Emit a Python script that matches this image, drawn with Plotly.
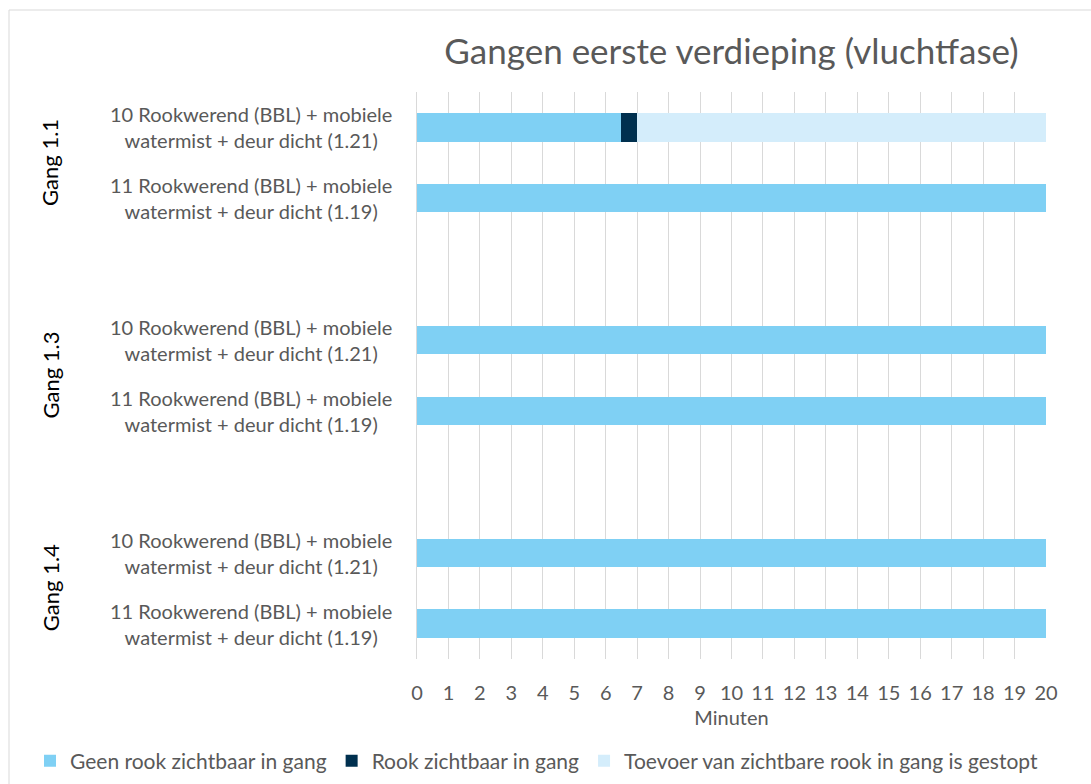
import plotly.graph_objects as go

groups = ["Gang 1.1", "Gang 1.3", "Gang 1.4"]
items = ["10 Rookwerend (BBL) + mobiele<br>watermist + deur dicht (1.21)",
         "11 Rookwerend (BBL) + mobiele<br>watermist + deur dicht (1.19)"]
series_names = ["Geen rook zichtbaar in gang", "Rook zichtbaar in gang",
                "Toevoer van zichtbare rook in gang is gestopt"]
geen = [6.5, 20, 20, 20, 20, 20]
rook = [0.5, 0, 0, 0, 0, 0]
toevoer = [13, 0, 0, 0, 0, 0]
x_ticks = list(range(0, 21))
colors = ["#7FD0F4", "#00304F", "#D4EDFB"]

# row positions: two items per group, one blank row between groups
ypos = []
labels = []
for gi, g in enumerate(groups):
    for ii, it in enumerate(items):
        ypos.append(gi * 3 + ii)
        labels.append(it)

FONT = "Lato"
TXT = "#595959"

fig = go.Figure()
for name, vals, col in zip(series_names, [geen, rook, toevoer], colors):
    fig.add_trace(go.Bar(y=ypos, x=vals, name=name, orientation="h",
                         marker=dict(color=col, line=dict(width=0)), width=0.4))

W, H = 1091, 784
L, R, T, B = 417, 45, 92, 125
pw, ph = W - L - R, H - T - B

annotations = []
for y, lab in zip(ypos, labels):
    annotations.append(dict(x=(394 - L) / pw, xref="paper", y=y, yref="y", text=lab,
                            showarrow=False, xanchor="right", align="center",
                            font=dict(family=FONT, size=20, color=TXT)))
for gi, g in enumerate(groups):
    annotations.append(dict(x=(50 - L) / pw, xref="paper", y=gi * 3 + 0.5, yref="y",
                            text=g, textangle=-90, showarrow=False, xanchor="center",
                            font=dict(family=FONT, size=22, color="#000000")))

fig.update_layout(
    width=W, height=H,
    margin=dict(l=L, r=R, t=T, b=B, autoexpand=False),
    barmode="stack",
    plot_bgcolor="white", paper_bgcolor="white",
    title=dict(text="Gangen eerste verdieping (vluchtfase)", x=0.5, xref="paper",
               y=1 - 52 / H, yref="container", yanchor="middle", xanchor="center",
               font=dict(family=FONT, size=35, color=TXT)),
    xaxis=dict(range=[0, 20], tickvals=x_ticks, ticktext=[str(v) for v in x_ticks],
               showgrid=True, gridcolor="#D9D9D9", gridwidth=1, zeroline=False,
               showline=False, ticks="", ticklabelstandoff=20,
               tickfont=dict(family=FONT, size=20, color=TXT),
               title=dict(text="Minuten", font=dict(family=FONT, size=20, color=TXT), standoff=7)),
    yaxis=dict(range=[7.5, -0.5], showticklabels=False, showgrid=False, zeroline=False,
               showline=True, linecolor="#D9D9D9", linewidth=1),
    legend=dict(orientation="h", xref="paper", yref="paper",
                x=(30 - L) / pw, y=(H - B - 761) / ph, xanchor="left", yanchor="middle",
                font=dict(family=FONT, size=21, color=TXT), traceorder="normal",
                itemwidth=30, bgcolor="rgba(0,0,0,0)"),
    annotations=annotations,
    shapes=[dict(type="rect", xref="paper", yref="paper",
                 x0=(9 - L) / pw, x1=(1100 - L) / pw,
                 y0=(H - B - 800) / ph, y1=(H - B - 10) / ph,
                 line=dict(color="#D9D9D9", width=1), layer="below")],
    showlegend=True,
)
fig.write_html("out.html", config={"displayModeBar": False},
               post_script="document.body.style.margin='0';")
